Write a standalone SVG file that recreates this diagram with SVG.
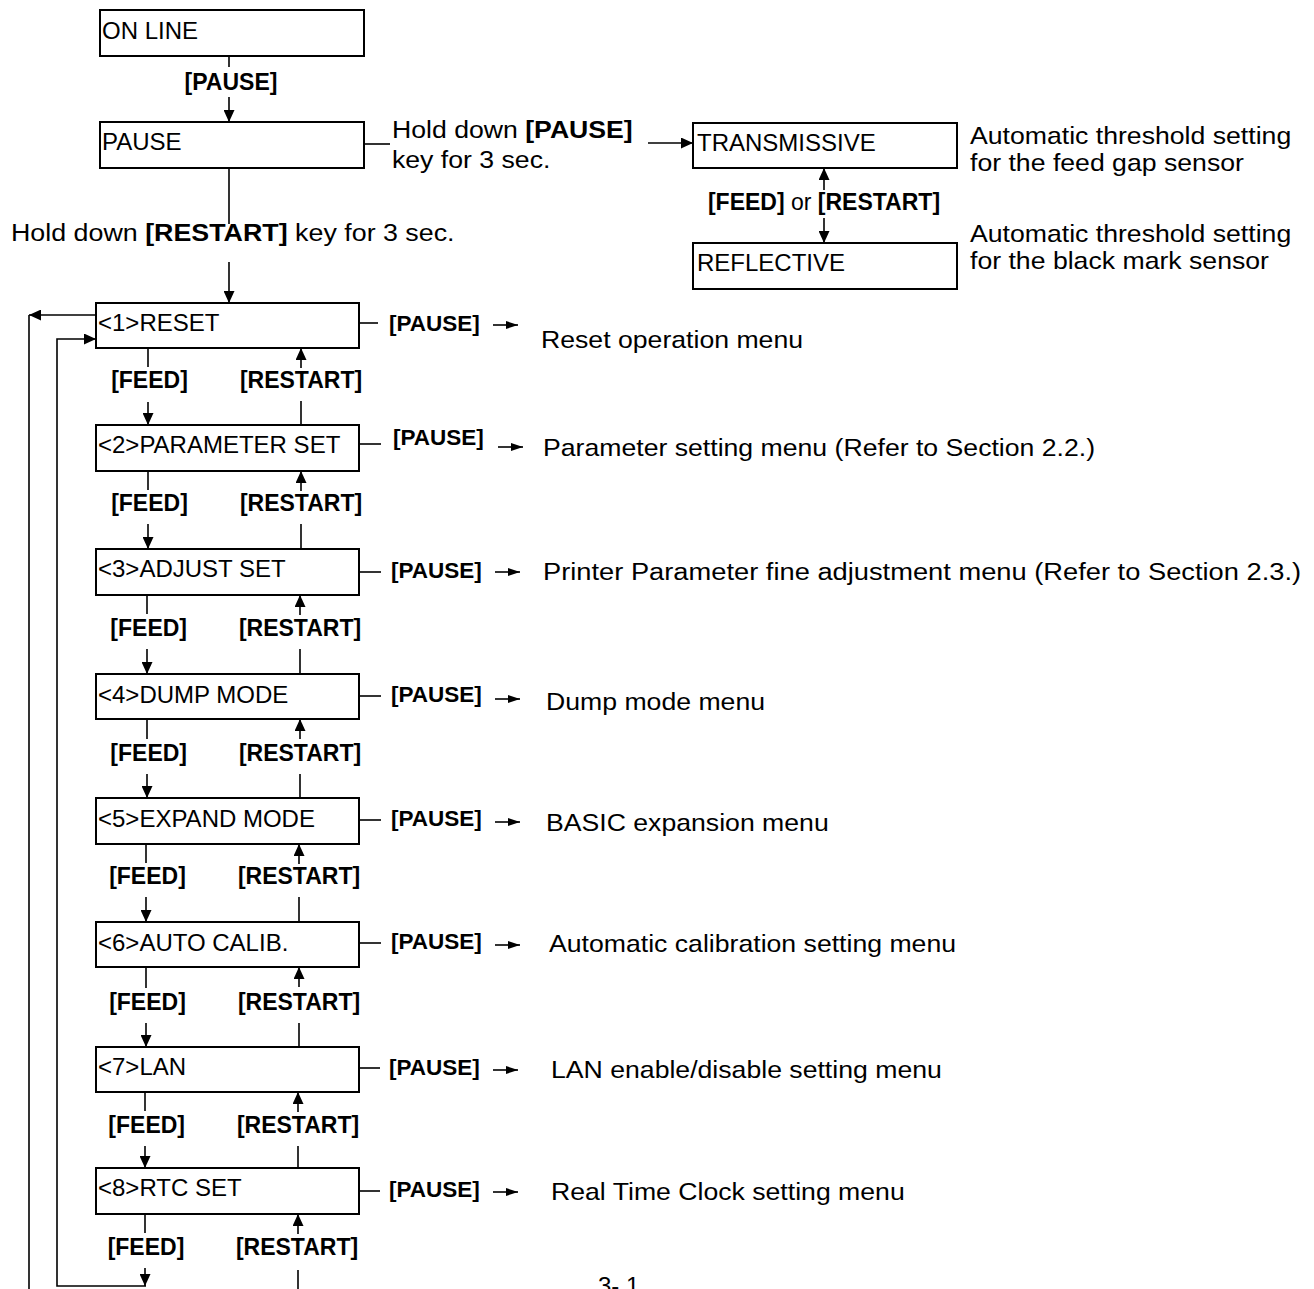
<svg xmlns="http://www.w3.org/2000/svg" width="1314" height="1289" viewBox="0 0 1314 1289">
<style>
.box{fill:#fff;stroke:#000;stroke-width:2}
.ln{stroke:#000;stroke-width:1.6;fill:none}
.ar{stroke:#000;stroke-width:1.6;fill:none;marker-end:url(#ah)}
.as{stroke:#000;stroke-width:1.6;fill:none;marker-end:url(#as)}
.bt{font-family:"Liberation Sans",Arial,Helvetica,sans-serif;font-size:24px;fill:#000}
.ds{font-family:"Liberation Sans",Arial,Helvetica,sans-serif;font-size:24px;fill:#000}
.lb{font-family:"Liberation Sans",Arial,Helvetica,sans-serif;font-size:23px;font-weight:bold;text-anchor:middle;fill:#000}
.pl{font-family:"Liberation Sans",Arial,Helvetica,sans-serif;font-size:22.5px;font-weight:bold;fill:#000}
.b{font-weight:bold}
</style>
<defs>
<marker id="ah" viewBox="0 0 12 11" refX="12" refY="5.5" markerWidth="12" markerHeight="11" markerUnits="userSpaceOnUse" orient="auto"><path d="M0,0 L12,5.5 L0,11 z" fill="#000"/></marker>
<marker id="as" viewBox="0 0 12 8" refX="12" refY="4" markerWidth="12" markerHeight="8" markerUnits="userSpaceOnUse" orient="auto"><path d="M0,0 L12,4 L0,8 z" fill="#000"/></marker>
</defs>

<g id="connectors">
<line class="ln" x1="229" y1="56" x2="229" y2="67"/>
<line class="ar" x1="229" y1="97" x2="229" y2="122"/>
<line class="ln" x1="364" y1="144" x2="390" y2="144"/>
<line class="ar" x1="648" y1="143" x2="693" y2="143"/>
<line class="ln" x1="229" y1="168" x2="229" y2="224"/>
<line class="ar" x1="229" y1="262" x2="229" y2="303"/>
<line class="ar" x1="824" y1="190" x2="824" y2="168"/>
<line class="ar" x1="824" y1="218" x2="824" y2="243"/>
<path class="ln" d="M29,1289 V315"/>
<line class="ar" x1="96" y1="315" x2="29" y2="315"/>
<path class="ar" d="M146,1286 H57 V339 H96"/>

<line class="ln" x1="148" y1="348" x2="148" y2="367"/><line class="ar" x1="148" y1="402" x2="148" y2="425"/>
<line class="ar" x1="301" y1="368" x2="301" y2="348"/><line class="ln" x1="301" y1="401" x2="301" y2="425"/>
<line class="ln" x1="148" y1="471" x2="148" y2="490"/><line class="ar" x1="148" y1="524" x2="148" y2="549"/>
<line class="ar" x1="301" y1="491" x2="301" y2="471"/><line class="ln" x1="301" y1="524" x2="301" y2="549"/>
<line class="ln" x1="147" y1="595" x2="147" y2="614"/><line class="ar" x1="147" y1="649" x2="147" y2="674"/>
<line class="ar" x1="300" y1="615" x2="300" y2="595"/><line class="ln" x1="300" y1="649" x2="300" y2="674"/>
<line class="ln" x1="147" y1="719" x2="147" y2="739"/><line class="ar" x1="147" y1="774" x2="147" y2="798"/>
<line class="ar" x1="300" y1="739" x2="300" y2="719"/><line class="ln" x1="300" y1="774" x2="300" y2="798"/>
<line class="ln" x1="146" y1="844" x2="146" y2="863"/><line class="ar" x1="146" y1="897" x2="146" y2="922"/>
<line class="ar" x1="299" y1="864" x2="299" y2="844"/><line class="ln" x1="299" y1="897" x2="299" y2="922"/>
<line class="ln" x1="146" y1="967" x2="146" y2="988"/><line class="ar" x1="146" y1="1023" x2="146" y2="1047"/>
<line class="ar" x1="299" y1="987" x2="299" y2="967"/><line class="ln" x1="299" y1="1023" x2="299" y2="1047"/>
<line class="ln" x1="145" y1="1092" x2="145" y2="1111"/><line class="ar" x1="145" y1="1146" x2="145" y2="1168"/>
<line class="ar" x1="298" y1="1112" x2="298" y2="1092"/><line class="ln" x1="298" y1="1146" x2="298" y2="1168"/>
<line class="ln" x1="145" y1="1214" x2="145" y2="1233"/><line class="ar" x1="145" y1="1268" x2="145" y2="1286"/>
<line class="ar" x1="298" y1="1234" x2="298" y2="1214"/><line class="ln" x1="298" y1="1270" x2="298" y2="1289"/>

<line class="ln" x1="359" y1="323" x2="378" y2="323"/><line class="as" x1="493" y1="325" x2="518" y2="325"/>
<line class="ln" x1="359" y1="444" x2="381" y2="444"/><line class="as" x1="498" y1="447" x2="523" y2="447"/>
<line class="ln" x1="359" y1="572" x2="381" y2="572"/><line class="as" x1="495" y1="572" x2="520" y2="572"/>
<line class="ln" x1="359" y1="696" x2="381" y2="696"/><line class="as" x1="495" y1="699" x2="520" y2="699"/>
<line class="ln" x1="359" y1="820" x2="381" y2="820"/><line class="as" x1="495" y1="822" x2="520" y2="822"/>
<line class="ln" x1="359" y1="943" x2="381" y2="943"/><line class="as" x1="495" y1="945" x2="520" y2="945"/>
<line class="ln" x1="359" y1="1068" x2="380" y2="1068"/><line class="as" x1="493" y1="1070" x2="518" y2="1070"/>
<line class="ln" x1="359" y1="1191" x2="380" y2="1191"/><line class="as" x1="493" y1="1192" x2="518" y2="1192"/>
</g>

<g id="labels">
<text class="lb" x="231" y="90">[PAUSE]</text>
<text class="ds" transform="translate(392 138) scale(1.11 1)">Hold down <tspan class="b">[PAUSE]</tspan></text>
<text class="ds" transform="translate(392 168) scale(1.11 1)">key for 3 sec.</text>
<text class="ds" transform="translate(11 241) scale(1.118 1)">Hold down <tspan class="b">[RESTART]</tspan> key for 3 sec.</text>
<text class="lb" x="824" y="210">[FEED]<tspan font-weight="normal"> or </tspan>[RESTART]</text>
<text class="ds" transform="translate(970 144) scale(1.11 1)">Automatic threshold setting</text>
<text class="ds" transform="translate(970 171) scale(1.11 1)">for the feed gap sensor</text>
<text class="ds" transform="translate(970 242) scale(1.11 1)">Automatic threshold setting</text>
<text class="ds" transform="translate(970 269) scale(1.11 1)">for the black mark sensor</text>

<text class="lb" x="149.5" y="388">[FEED]</text><text class="lb" x="301" y="388">[RESTART]</text>
<text class="lb" x="149.5" y="511">[FEED]</text><text class="lb" x="301" y="511">[RESTART]</text>
<text class="lb" x="148.7" y="636">[FEED]</text><text class="lb" x="300" y="636">[RESTART]</text>
<text class="lb" x="148.7" y="761">[FEED]</text><text class="lb" x="300" y="761">[RESTART]</text>
<text class="lb" x="147.5" y="884">[FEED]</text><text class="lb" x="299" y="884">[RESTART]</text>
<text class="lb" x="147.5" y="1010">[FEED]</text><text class="lb" x="299" y="1010">[RESTART]</text>
<text class="lb" x="146.7" y="1133">[FEED]</text><text class="lb" x="298" y="1133">[RESTART]</text>
<text class="lb" x="146" y="1255">[FEED]</text><text class="lb" x="297" y="1255">[RESTART]</text>

<text class="pl" x="389" y="331">[PAUSE]</text><text class="ds" transform="translate(541 348) scale(1.11 1)">Reset operation menu</text>
<text class="pl" x="393" y="445">[PAUSE]</text><text class="ds" transform="translate(543 456) scale(1.11 1)">Parameter setting menu (Refer to Section 2.2.)</text>
<text class="pl" x="391" y="578">[PAUSE]</text><text class="ds" transform="translate(543 580) scale(1.137 1)">Printer Parameter fine adjustment menu (Refer to Section 2.3.)</text>
<text class="pl" x="391" y="702">[PAUSE]</text><text class="ds" transform="translate(546 710) scale(1.11 1)">Dump mode menu</text>
<text class="pl" x="391" y="826">[PAUSE]</text><text class="ds" transform="translate(546 831) scale(1.11 1)">BASIC expansion menu</text>
<text class="pl" x="391" y="949">[PAUSE]</text><text class="ds" transform="translate(549 952) scale(1.11 1)">Automatic calibration setting menu</text>
<text class="pl" x="389" y="1075">[PAUSE]</text><text class="ds" transform="translate(551 1078) scale(1.11 1)">LAN enable/disable setting menu</text>
<text class="pl" x="389" y="1197">[PAUSE]</text><text class="ds" transform="translate(551 1200) scale(1.11 1)">Real Time Clock setting menu</text>
<text class="ds" x="598" y="1294">3- 1</text>
</g>

<g id="n-online"><rect class="box" x="100" y="10" width="264" height="46"/><text class="bt" x="102" y="39">ON LINE</text></g>
<g id="n-pause"><rect class="box" x="100" y="122" width="264" height="46"/><text class="bt" x="102" y="150">PAUSE</text></g>
<g id="n-transmissive"><rect class="box" x="693" y="123" width="264" height="45"/><text class="bt" x="697" y="151">TRANSMISSIVE</text></g>
<g id="n-reflective"><rect class="box" x="693" y="243" width="264" height="46"/><text class="bt" x="697" y="271">REFLECTIVE</text></g>
<g id="n-1"><rect class="box" x="96" y="303" width="263" height="45"/><text class="bt" x="98" y="331">&lt;1&gt;RESET</text></g>
<g id="n-2"><rect class="box" x="96" y="425" width="263" height="46"/><text class="bt" x="98" y="453">&lt;2&gt;PARAMETER SET</text></g>
<g id="n-3"><rect class="box" x="96" y="549" width="263" height="46"/><text class="bt" x="98" y="577">&lt;3&gt;ADJUST SET</text></g>
<g id="n-4"><rect class="box" x="96" y="674" width="263" height="45"/><text class="bt" x="98" y="703">&lt;4&gt;DUMP MODE</text></g>
<g id="n-5"><rect class="box" x="96" y="798" width="263" height="46"/><text class="bt" x="98" y="827">&lt;5&gt;EXPAND MODE</text></g>
<g id="n-6"><rect class="box" x="96" y="922" width="263" height="45"/><text class="bt" x="98" y="951">&lt;6&gt;AUTO CALIB.</text></g>
<g id="n-7"><rect class="box" x="96" y="1047" width="263" height="45"/><text class="bt" x="98" y="1075">&lt;7&gt;LAN</text></g>
<g id="n-8"><rect class="box" x="96" y="1168" width="263" height="46"/><text class="bt" x="98" y="1196">&lt;8&gt;RTC SET</text></g>
</svg>
